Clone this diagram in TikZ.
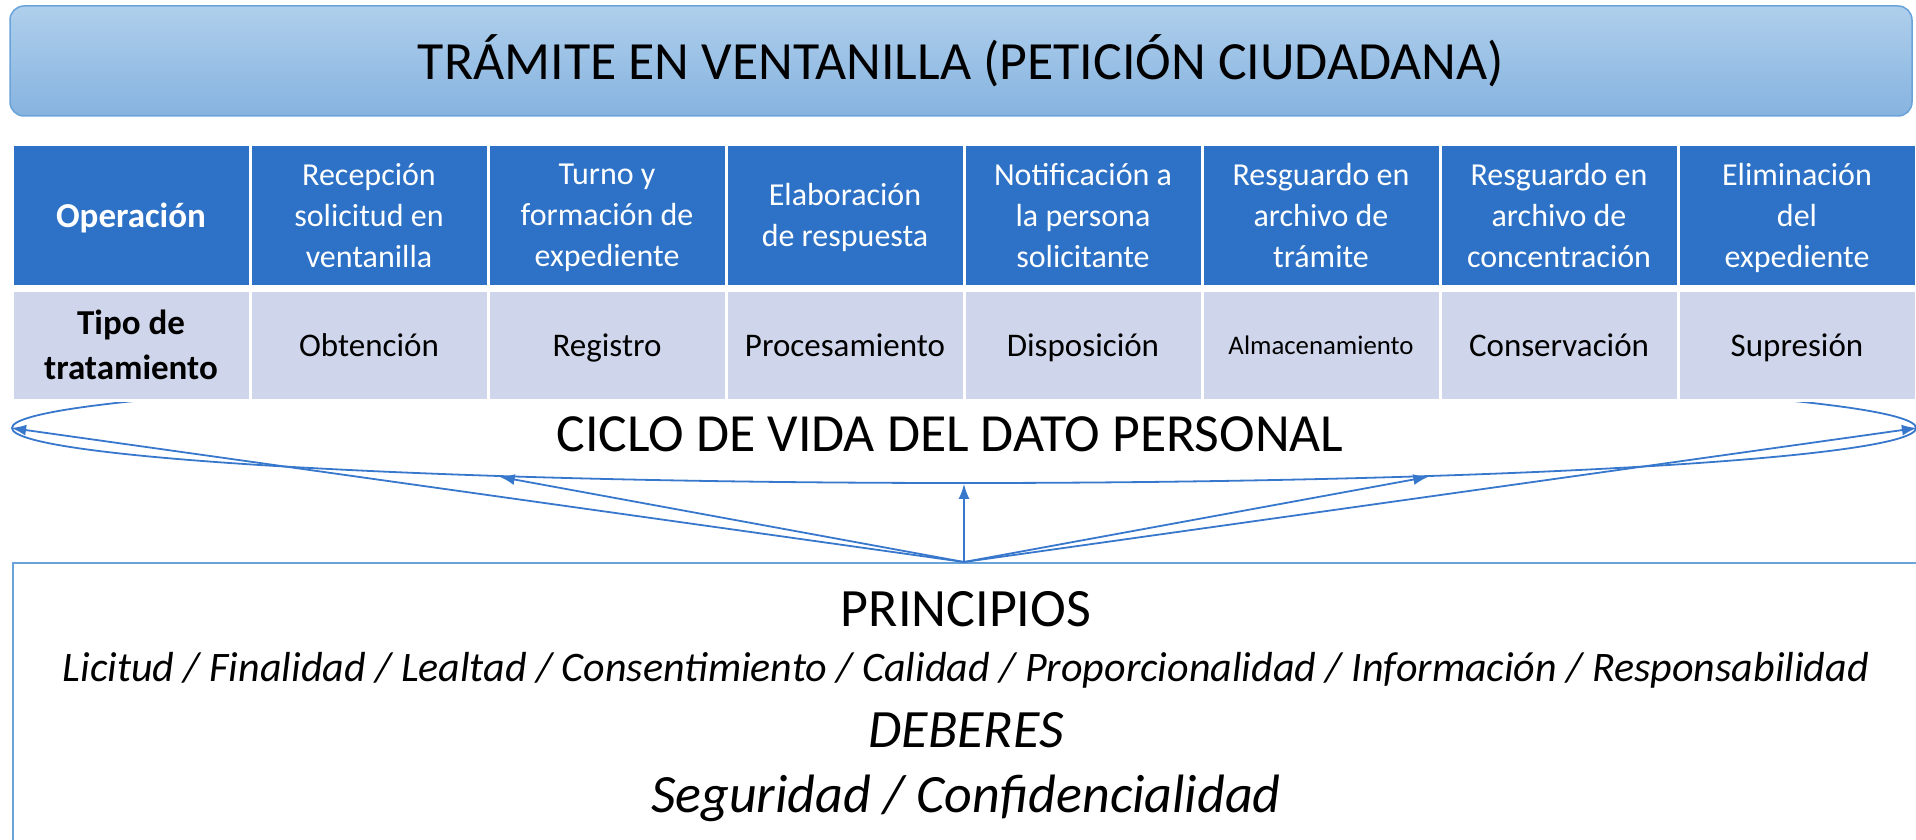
\documentclass[tikz,border=0pt]{standalone}
\usepackage{fontspec}
\setmainfont{Carlito}
\usepackage{tikz}
\usetikzlibrary{arrows.meta, positioning, shapes.geometric}

\definecolor{hdblue}{HTML}{2D72C6}
\definecolor{rowlav}{HTML}{CFD5EA}
\definecolor{lnblue}{HTML}{3878CC}
\definecolor{bnrtop}{HTML}{AFCFEC}
\definecolor{bnrbot}{HTML}{86B3DF}
\definecolor{bnrline}{HTML}{6AA3DA}

\begin{document}
\begin{tikzpicture}[
  x=1pt, y=1pt,
  node distance = 0pt,
  head/.style  = {rectangle, draw=white, line width=3pt, fill=hdblue,
                  minimum width=238pt, minimum height=142pt,
                  inner sep=0pt, outer sep=0pt, align=center, text=white,
                  text depth=0pt, font=\fontsize{32}{41}\selectfont},
  kind/.style  = {head, fill=rowlav, text=black, minimum height=110pt,
                  font=\fontsize{33}{45}\selectfont},
  bold/.style  = {font=\fontsize{35}{45}\selectfont\bfseries},
  banner/.style = {rectangle, rounded corners=14pt, draw=bnrline, line width=1.5pt,
                  top color=bnrtop, bottom color=bnrbot,
                  minimum width=1902pt, minimum height=110pt,
                  font=\fontsize{53.8}{60}\selectfont},
  arr/.style   = {-{Latex[length=15pt,width=11pt]}, line width=1.8pt, lnblue},
]
\clip (0,0) rectangle (1916,-840);

% life cycle loop, partly hidden by the table
\node[ellipse, draw=lnblue, line width=1.8pt, inner sep=0pt,
      minimum width=1904pt, minimum height=110pt] (vida) at (964,-428) {};

\node[banner] (title) at (961,-61) {TRÁMITE EN VENTANILLA (PETICIÓN CIUDADANA)};

% operations
\node[head, bold] (opr) at (131,-215) {Operación};
\node[head, right=of opr] (rec)  {Recepción\\solicitud en\\ventanilla};
\node[head, right=of rec] (turno) {Turno y\\formación de\\expediente};
\node[head, right=of turno] (elab) {Elaboración\\de respuesta};
\node[head, right=of elab] (notif) {Notificación a\\la persona\\solicitante};
\node[head, right=of notif] (restr) {Resguardo en\\archivo de\\trámite};
\node[head, right=of restr] (rescon) {Resguardo en\\archivo de\\concentración};
\node[head, right=of rescon] (elim) {Eliminación\\del\\expediente};

% kinds of treatment
\node[kind, bold, below=4pt of opr] (tipo) {Tipo de\\tratamiento};
\node[kind, right=of tipo] (obt)  {Obtención};
\node[kind, right=of obt]  (reg)  {Registro};
\node[kind, right=of reg]  (proc) {Procesamiento};
\node[kind, right=of proc] (disp) {Disposición};
\node[kind, right=of disp, font=\fontsize{26.8}{30}\selectfont] (alm) {Almacenamiento};
\node[kind, right=of alm]  (cons) {Conservación};
\node[kind, right=of cons] (sup)  {Supresión};

\node[font=\fontsize{53.7}{60}\selectfont] (ciclo) at (950,-434) {CICLO DE VIDA DEL DATO PERSONAL};

% principles and duties
\node[draw=bnrline, line width=2pt, anchor=north west, inner sep=0pt,
      minimum width=1940pt, minimum height=320pt] (box) at (12,-562) {};
\node[font=\fontsize{54}{60}\selectfont] (prin) at (966,-609) {PRINCIPIOS};
\node[font=\fontsize{42}{48}\selectfont\itshape] (lic) at (966,-670)
  {Licitud / Finalidad / Lealtad / Consentimiento / Calidad / Proporcionalidad / Información / Responsabilidad};
\node[font=\fontsize{54}{60}\selectfont\itshape] (deb) at (966,-730) {DEBERES};
\node[font=\fontsize{54}{60}\selectfont\itshape] (seg) at (966,-798) {Seguridad / Confidencialidad};

\coordinate (src) at (964,-562);
\draw[arr] (src) -- (vida.west);
\draw[arr] (src) -- (vida.186.6);
\draw[arr] (src) -- (vida.south);
\draw[arr] (src) -- (vida.354);
\draw[arr] (src) -- (vida.east);

\end{tikzpicture}
\end{document}
